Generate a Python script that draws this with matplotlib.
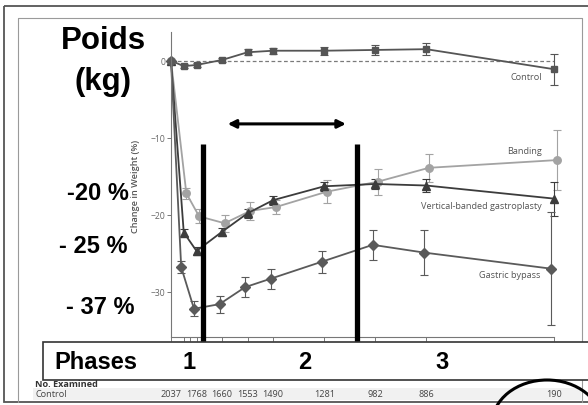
import matplotlib
matplotlib.use("Agg")
import matplotlib.pyplot as plt
import matplotlib.transforms as mtransforms
from matplotlib.patches import Rectangle, Ellipse

# données
years = [0, 0.5, 1, 2, 3, 4, 6, 8, 10, 15]
control = [0, -0.7, -0.55, 0.1, 1.1, 1.3, 1.3, 1.4, 1.5, -1.1]
control_err = [0, 0.3, 0.3, 0.3, 0.4, 0.4, 0.5, 0.6, 0.8, 2.0]
banding = [0, -17.2, -20.2, -21.1, -19.5, -19.0, -17.0, -15.7, -13.9, -12.9]
banding_err = [0, 0.7, 0.9, 1.1, 1.2, 0.9, 1.5, 1.7, 1.85, 3.9]
vbg = [0, -22.3, -24.7, -22.2, -19.8, -18.1, -16.3, -16.0, -16.2, -17.9]
vbg_err = [0, 0.4, 0.5, 0.5, 0.6, 0.6, 0.6, 0.6, 0.8, 2.2]
bypass = [0, -26.8, -32.2, -31.6, -29.4, -28.3, -26.1, -23.9, -24.9, -27.0]
bypass_err = [0, 0.8, 1.0, 1.1, 1.3, 1.3, 1.45, 1.95, 2.9, 7.3]

exam_years = [0, 1, 2, 3, 4, 6, 8, 10, 15]
control_n = [2037, 1768, 1660, 1553, 1490, 1281, 982, 886, 190]

phase_bounds = [1.27, 7.29]
phase_labels = ["1", "2", "3"]
yticks = [0, -10, -20, -30]

W, H = 588, 406
fig = plt.figure(figsize=(W / 100, H / 100), dpi=100)
fig.patch.set_facecolor("white")

# axe du graphique, placé en pixels
x0, x1, ytop, ybot = 171, 554, 33, 337.5
ax = fig.add_axes([x0 / W, 1 - ybot / H, (x1 - x0) / W, (ybot - ytop) / H], zorder=1)
ax.set_facecolor("none")
ax.set_xlim(0, 15)
ax.set_ylim(-35.8, 3.73)

series = [
    (control, control_err, "s", "#555555", 0.0, 4.6),
    (banding, banding_err, "o", "#a3a3a3", 0.1, 5.4),
    (vbg, vbg_err, "^", "#3c3c3c", 0.0, 5.4),
    (bypass, bypass_err, "D", "#5a5a5a", -0.1, 4.6),
]
for vals, err, mk, col, off, ms in series:
    xs = [x + off if x > 0 else x for x in years]
    ax.errorbar(xs, vals, yerr=err, color=col, marker=mk, markersize=ms, lw=1.3,
                elinewidth=0.8, capsize=2.8, capthick=0.8, clip_on=False)

ax.axhline(0, color="#7a7a7a", lw=0.9, ls=(0, (3, 2)), zorder=0)

lab_font = "Open Sans"
fs = 6.6
ax.text(14.52, -2.1, "Control", ha="right", va="center", fontsize=fs, color="#555555", family=lab_font)
ax.text(14.52, -11.6, "Banding", ha="right", va="center", fontsize=fs, color="#555555", family=lab_font)
ax.text(14.52, -18.8, "Vertical-banded gastroplasty", ha="right", va="center", fontsize=fs,
        color="#555555", family=lab_font)
ax.text(14.48, -27.8, "Gastric bypass", ha="right", va="center", fontsize=fs, color="#555555", family=lab_font)

for s in ["top", "right"]:
    ax.spines[s].set_visible(False)
for s in ["left", "bottom"]:
    ax.spines[s].set_color("#777777")
    ax.spines[s].set_linewidth(0.8)
ax.set_yticks(yticks)
ax.set_yticklabels(["0", "\u221210", "\u221220", "\u221230"], fontsize=6.2, color="#666666", family=lab_font)
ax.set_xticks([0, 0.5, 0.75, 1, 2, 3, 4, 6, 8, 10, 15])
ax.set_xticklabels([])
ax.tick_params(axis="both", length=3, width=0.7, color="#777777", pad=1)

# barres noires des phases et flèche
for b in phase_bounds:
    ax.plot([b, b], [-10.8, -36.6], color="black", lw=3.8, solid_capstyle="butt", clip_on=False, zorder=4)
ax.annotate("", xy=(6.85, -8.2), xytext=(2.22, -8.2),
            arrowprops=dict(arrowstyle="<|-|>", color="black", lw=2.2, mutation_scale=12,
                            shrinkA=0, shrinkB=0))

fig.text(136 / W, 1 - 186 / H, "Change in Weight (%)", rotation=90, ha="center", va="center",
         fontsize=6.6, color="#555555", weight="semibold", family=lab_font)

# calque en pixels pour le reste de la diapo
ov = fig.add_axes([0, 0, 1, 1], zorder=5)
ov.set_xlim(0, W)
ov.set_ylim(H, 0)
ov.axis("off")
ov.patch.set_alpha(0)

ov.add_patch(Rectangle((4, 7), 600, 396, fill=False, edgecolor="#555555", lw=1.3))
ov.plot([18, 18, 582, 582], [403, 19, 19, 403], color="#9a9a9a", lw=0.8)

big = "Liberation Sans"
ov.text(103, 41, "Poids", ha="center", va="center", fontsize=22.5, weight="bold", family=big)
ov.text(103, 82, "(kg)", ha="center", va="center", fontsize=22.5, weight="bold", family=big)
ov.text(66.7, 194, "-20 %", ha="left", va="center", fontsize=17, weight="bold", family=big)
ov.text(59.3, 247, "- 25 %", ha="left", va="center", fontsize=17, weight="bold", family=big)
ov.text(66, 308, "- 37 %", ha="left", va="center", fontsize=17, weight="bold", family=big)

# tableau des effectifs
ov.add_patch(Rectangle((33, 389), 548, 12, facecolor="#f1f1f1", edgecolor="none", zorder=1))
ov.text(35, 385, "No. Examined", ha="left", va="center", fontsize=6.6, weight="bold", color="#333333",
        family=lab_font, zorder=2)
ov.text(35, 395, "Control", ha="left", va="center", fontsize=6.6, color="#444444", family=lab_font, zorder=2)
tr = mtransforms.blended_transform_factory(ax.transData, fig.transFigure)
for yr, n in zip(exam_years, control_n):
    fig.text(yr, 1 - 395 / H, str(n), transform=tr, ha="center", va="center", fontsize=6.6,
             color="#444444", family=lab_font, zorder=6)

# cadre "Phases"
ov.add_patch(Rectangle((42.5, 342.7), 600, 38.3, facecolor="white", edgecolor="#333333", lw=1.2, zorder=3))
ov.text(54, 363, "Phases", ha="left", va="center", fontsize=17, weight="bold", family=big, zorder=4)
for xp, t in zip([189, 305, 442], phase_labels):
    ov.text(xp, 363, t, ha="center", va="center", fontsize=17, weight="bold", family=big, zorder=4)

ov.add_patch(Ellipse((547, 425), 110, 88, fill=False, edgecolor="black", lw=2.2, zorder=7))

fig.savefig("out.png", dpi=100)
